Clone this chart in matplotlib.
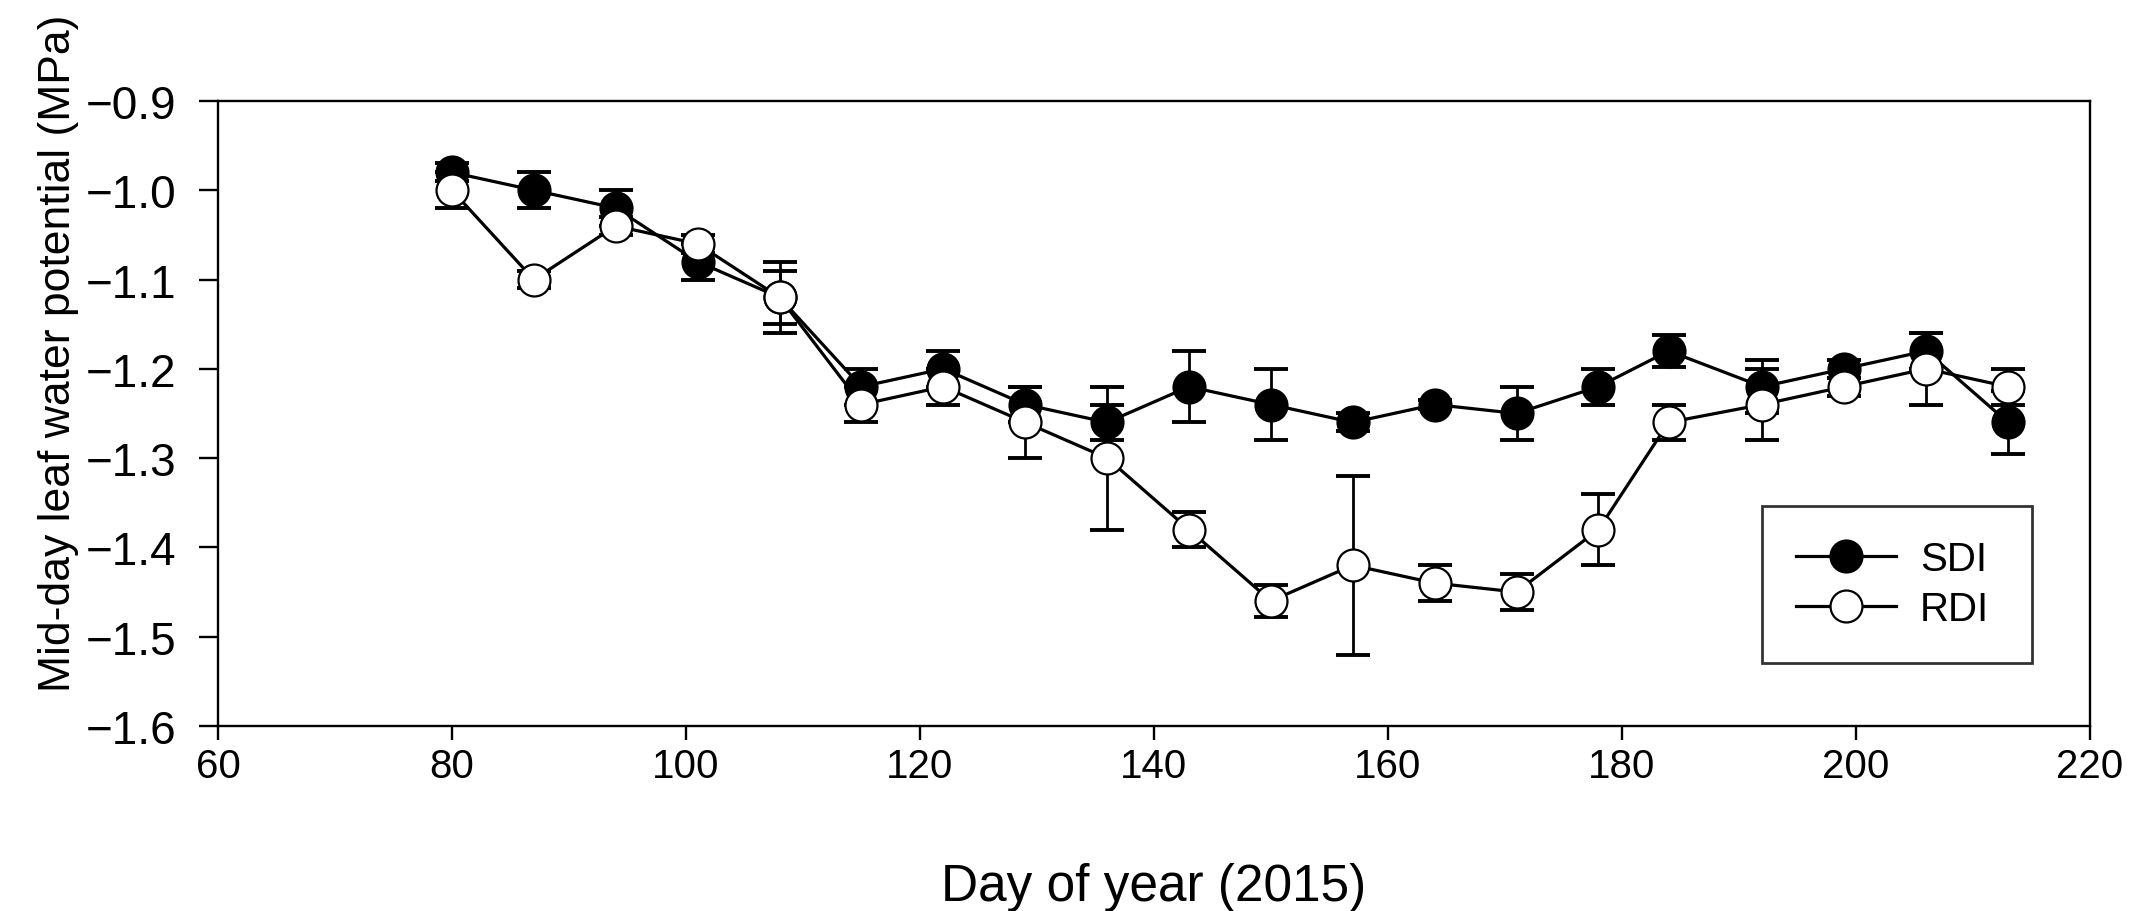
import matplotlib
matplotlib.use("Agg")
import matplotlib.pyplot as plt

plt.rcParams['font.family'] = ['Liberation Sans', 'DejaVu Sans']

# day of year (2015)
days = [80, 87, 94, 101, 108, 115, 122, 129, 136, 143,
        150, 157, 164, 171, 178, 184, 192, 199, 206, 213]

# mid-day leaf water potential (MPa), mean and error
sdi = [-0.98, -1.00, -1.02, -1.08, -1.12, -1.22, -1.20, -1.24, -1.26, -1.22,
       -1.24, -1.26, -1.24, -1.25, -1.22, -1.18, -1.22, -1.20, -1.18, -1.26]
sdi_err = [0.01, 0.02, 0.02, 0.02, 0.04, 0.02, 0.02, 0.02, 0.02, 0.04,
           0.04, 0.01, 0.005, 0.03, 0.02, 0.018, 0.03, 0.01, 0.02, 0.035]

rdi = [-1.00, -1.10, -1.04, -1.06, -1.12, -1.24, -1.22, -1.26, -1.30, -1.38,
       -1.46, -1.42, -1.44, -1.45, -1.38, -1.26, -1.24, -1.22, -1.20, -1.22]
rdi_err = [0.02, 0.01, 0.01, 0.01, 0.03, 0.02, 0.02, 0.04, 0.08, 0.02,
           0.018, 0.10, 0.02, 0.02, 0.04, 0.02, 0.04, 0.01, 0.04, 0.02]

x_ticks = [60, 80, 100, 120, 140, 160, 180, 200, 220]
y_ticks = [-0.9, -1.0, -1.1, -1.2, -1.3, -1.4, -1.5, -1.6]

fig = plt.figure(figsize=(21.54, 9.12), dpi=100)
ax = fig.add_axes([0.1012, 0.2029, 0.869, 0.6853])

err_kw = dict(fmt='none', ecolor='black', elinewidth=2.0, capsize=12, capthick=2.8)
line_kw = dict(color='black', lw=2.3, marker='o', markersize=23,
               markeredgecolor='black', markeredgewidth=1.6)

ax.errorbar(days, sdi, yerr=sdi_err, zorder=2, **err_kw)
h_sdi, = ax.plot(days, sdi, markerfacecolor='black', zorder=3, label='SDI', **line_kw)
ax.errorbar(days, rdi, yerr=rdi_err, zorder=4, **err_kw)
h_rdi, = ax.plot(days, rdi, markerfacecolor='white', zorder=5, label='RDI', **line_kw)

ax.set_xlim(60, 220)
ax.set_ylim(-1.6, -0.9)
ax.set_xticks(x_ticks)
ax.set_yticks(y_ticks)
ax.set_yticklabels([f"{v:.1f}".replace('-', '\u2212') for v in y_ticks])

for s in ax.spines.values():
    s.set_linewidth(1.7)
ax.tick_params(axis='y', direction='out', length=14, width=1.7, pad=16, labelsize=33)
ax.tick_params(axis='x', direction='out', length=10, width=1.7, pad=5, labelsize=29)

ax.set_xlabel('Day of year (2015)', fontsize=37)
ax.set_ylabel('Mid-day leaf water potential (MPa)', fontsize=32)
ax.xaxis.set_label_coords(0.5, -0.218)
ax.yaxis.set_label_coords(-0.0743, 0.598)

leg = ax.legend(handles=[h_sdi, h_rdi], loc='upper left',
                bbox_to_anchor=(0.825, 0.352, 0.144, 0.0), mode='expand',
                fontsize=29, frameon=True, fancybox=False, handlelength=2.47,
                handletextpad=0.6, borderpad=0.85, labelspacing=0.3,
                borderaxespad=0)
leg.get_frame().set_edgecolor('black')
leg.get_frame().set_linewidth(2)

fig.savefig('out.png', dpi=100)
